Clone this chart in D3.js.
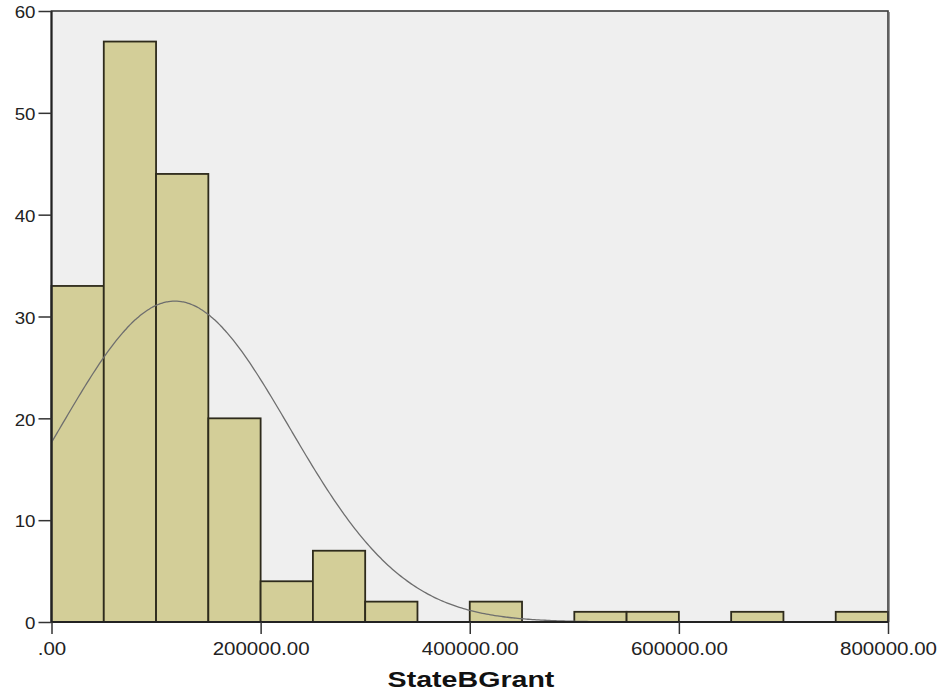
<!DOCTYPE html>
<html><head><meta charset="utf-8">
<script src="https://cdn.jsdelivr.net/npm/d3@7/dist/d3.min.js"></script>
<style>body{margin:0;background:#fff}svg{display:block}</style>
</head><body>
<script>
// Data
const binStarts = [0,50000,100000,150000,200000,250000,300000,350000,400000,450000,500000,550000,600000,650000,700000,750000];
const binWidth = 50000;
const counts = [33,57,44,20,4,7,2,0,2,0,1,1,0,1,0,1];
const yTicks = [0,10,20,30,40,50,60];
const xTicks = [0,200000,400000,600000,800000];
const xTickLabels = [".00","200000.00","400000.00","600000.00","800000.00"];
const xTitle = "StateBGrant";
// Fitted normal curve parameters
const normMean = 118000, normSD = 109500, normN = 173;

const W = 940, H = 696;
const m = {left:51.5, right:888, top:11, bottom:622};
const svg = d3.select("body").append("svg").attr("width",W).attr("height",H);

const x = d3.scaleLinear().domain([0,800000]).range([m.left,m.right]);
const y = d3.scaleLinear().domain([0,60]).range([m.bottom,m.top]);

svg.append("rect").attr("x",m.left).attr("y",m.top)
  .attr("width",m.right-m.left).attr("height",m.bottom-m.top)
  .attr("fill","#efefef");

svg.append("g").selectAll("rect").data(counts.map((c,i)=>({x0:binStarts[i],c})).filter(d=>d.c>0))
  .join("rect")
  .attr("x",d=>x(d.x0)).attr("width",d=>x(d.x0+binWidth)-x(d.x0))
  .attr("y",d=>y(d.c)).attr("height",d=>y(0)-y(d.c))
  .attr("fill","#d3ce98").attr("stroke","#2e2b1c").attr("stroke-width",1.8);

// normal curve
const pts = d3.range(0,800001,2000).map(v=>[v, normN*binWidth/(normSD*Math.sqrt(2*Math.PI))*Math.exp(-0.5*Math.pow((v-normMean)/normSD,2))]);
svg.append("path").datum(pts)
  .attr("d",d3.line().x(d=>x(d[0])).y(d=>y(d[1])).curve(d3.curveBasis))
  .attr("fill","none").attr("stroke","#6e6e6e").attr("stroke-width",1.3);

// frame
svg.append("rect").attr("x",m.left).attr("y",m.top)
  .attr("width",m.right-m.left).attr("height",m.bottom-m.top)
  .attr("fill","none").attr("stroke","#3a3a3a").attr("stroke-width",1.6);
svg.append("line").attr("x1",m.right+1.5).attr("x2",m.right+1.5).attr("y1",m.top+1).attr("y2",m.bottom)
  .attr("stroke","#9a9a9a").attr("stroke-width",1);
svg.append("line").attr("x1",m.left).attr("x2",m.left).attr("y1",m.top).attr("y2",m.bottom)
  .attr("stroke","#222").attr("stroke-width",2);
svg.append("line").attr("x1",m.left).attr("x2",m.right).attr("y1",m.bottom).attr("y2",m.bottom)
  .attr("stroke","#222").attr("stroke-width",2);

// y axis
const yAx = svg.append("g").attr("transform",`translate(${m.left},0)`)
  .call(d3.axisLeft(y).tickValues(yTicks).tickSize(13).tickPadding(3).tickFormat(d3.format("d")));
yAx.select(".domain").remove();
yAx.selectAll("line").attr("stroke","#333").attr("stroke-width",1.5);
yAx.selectAll("text").attr("font-family","Arial, 'Liberation Sans', sans-serif")
  .attr("font-size",17).attr("fill","#222").attr("dy","0.4em")
  .attr("transform","scale(1.1,1)").attr("x",-16/1.1);

// x axis
const xAx = svg.append("g").attr("transform",`translate(0,${m.bottom})`)
  .call(d3.axisBottom(x).tickValues(xTicks).tickSize(12).tickPadding(6).tickFormat((d,i)=>xTickLabels[i]));
xAx.select(".domain").remove();
xAx.selectAll("line").attr("stroke","#333").attr("stroke-width",1.5);
xAx.selectAll("text").attr("font-family","Arial, 'Liberation Sans', sans-serif")
  .attr("font-size",18).attr("fill","#222").attr("dy","0.85em")
  .attr("transform","scale(1.14,1)");

svg.append("text").attr("transform",`translate(471,687) scale(1.3,1)`)
  .attr("text-anchor","middle").attr("font-family","Arial, 'Liberation Sans', sans-serif")
  .attr("font-weight","bold").attr("font-size",22).attr("fill","#111").text(xTitle);
</script>
</body></html>
